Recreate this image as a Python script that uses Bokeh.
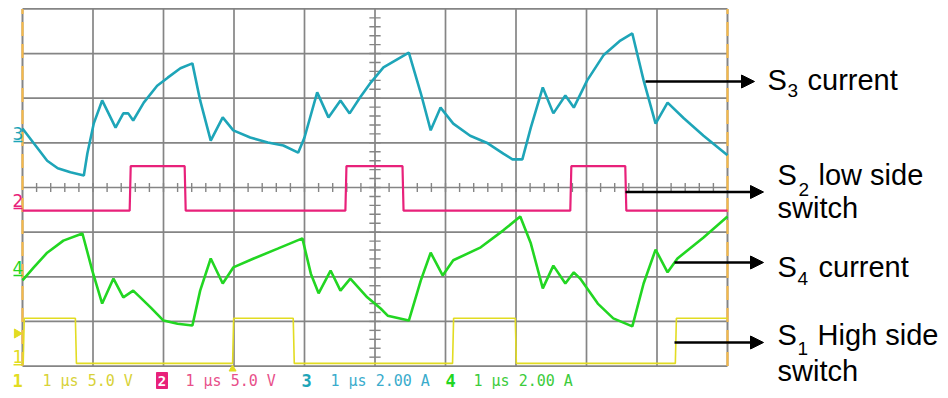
from math import pi
from bokeh.plotting import figure
from bokeh.models import Range1d, Arrow, NormalHead
from bokeh.core.properties import value
from bokeh.embed import file_html
from bokeh.resources import INLINE

# ---- data (time in µs, 1 µs/div; vertical position in screen divisions) ----
s3_t = [0, 0.16, 0.35, 0.50, 0.68, 0.87, 0.92, 1.01, 1.13, 1.32, 1.43, 1.50, 1.57,
        1.72, 1.91, 2.06, 2.24, 2.41, 2.52, 2.67, 2.84, 2.99, 3.23, 3.48, 3.70, 3.91,
        4.00, 4.18, 4.34, 4.51, 4.64, 4.79, 4.94, 5.12, 5.48, 5.65, 5.79, 5.93, 6.11,
        6.35, 6.60, 6.82, 6.95, 7.09, 7.21, 7.38, 7.53, 7.70, 7.82, 8.01, 8.24, 8.48,
        8.65, 8.81, 8.98, 9.15, 9.38, 9.66, 10.0]
s3_v = [1.32, 0.99, 0.60, 0.43, 0.34, 0.27, 0.76, 1.43, 1.95, 1.34, 1.66, 1.66, 1.50,
        1.90, 2.28, 2.46, 2.67, 2.78, 1.95, 1.05, 1.57, 1.28, 1.12, 1.01, 0.94, 0.78,
        1.12, 2.13, 1.57, 1.95, 1.66, 2.02, 2.35, 2.69, 3.02, 2.11, 1.28, 1.79, 1.43,
        1.16, 0.99, 0.76, 0.63, 0.63, 1.34, 2.24, 1.66, 2.06, 1.79, 2.40, 2.96, 3.29,
        3.45, 2.40, 1.43, 1.90, 1.55, 1.16, 0.72]

s4_t = [0, 0.16, 0.35, 0.58, 0.85, 0.99, 1.13, 1.29, 1.43, 1.57, 1.67, 1.82, 2.00,
        2.20, 2.41, 2.52, 2.67, 2.84, 2.99, 3.28, 3.62, 3.97, 4.09, 4.20, 4.37, 4.51,
        4.65, 4.89, 5.08, 5.18, 5.48, 5.65, 5.79, 5.96, 6.11, 6.50, 6.82, 7.06, 7.21,
        7.38, 7.53, 7.70, 7.82, 7.91, 8.16, 8.38, 8.65, 8.81, 8.98, 9.15, 9.29, 9.66, 10.0]
s4_v = [-2.08, -1.79, -1.46, -1.19, -1.03, -1.86, -2.60, -2.04, -2.46, -2.31, -2.46,
        -2.69, -2.98, -3.05, -3.09, -2.31, -1.59, -2.15, -1.79, -1.59, -1.37, -1.14,
        -1.93, -2.37, -1.86, -2.31, -2.04, -2.46, -2.71, -2.87, -2.98, -2.08, -1.46,
        -1.97, -1.63, -1.34, -0.96, -0.65, -1.25, -2.26, -1.75, -2.15, -1.90, -2.04,
        -2.60, -2.93, -3.11, -2.15, -1.39, -1.90, -1.59, -1.12, -0.65]

s2_edges = [1.52, 2.30, 4.58, 5.39, 7.77, 8.55]
s2_low, s2_high = -0.52, 0.48
s1_edges = [0.01, 0.75, 2.98, 3.84, 6.10, 6.99, 9.26]
s1_low, s1_high = -3.94, -2.93

ground_levels = {"3": 1.03, "2": -0.47, "4": -1.97, "1": -3.97}
trigger_level = -3.27
trigger_time = 2.98

channel_labels = ["1", "2", "3", "4"]
channel_scales = ["1 μs 5.0 V", "1 μs 5.0 V", "1 μs 2.00 A", "1 μs 2.00 A"]

# ---- colours ----
C1, C2, C3, C4 = "#e2dc22", "#e8217a", "#1ea5b8", "#22d622"
T1, T2, T3, T4 = "#d8d238", "#e8508a", "#3aaccc", "#3ccc3c"
GRID = "#858585"
EDGE = "#f5b94a"

PXX, PXY = 70.5, 44.65  # pixels per division
W, H = 948, 398
X0 = (0 - 22) / PXX
Y1 = (187 - 0) / PXY
p = figure(width=W, height=H, x_range=Range1d(X0, X0 + W / PXX),
           y_range=Range1d(Y1 - H / PXY, Y1), output_backend="svg",
           toolbar_location=None, min_border=0, x_axis_location=None,
           y_axis_location=None)
p.outline_line_color = None
p.background_fill_color = "white"
for g in p.xgrid + p.ygrid:
    g.grid_line_color = None


def px(x):
    return (x - 22) / PXX


def py(y):
    return (187 - y) / PXY


# grid
p.segment(x0=list(range(1, 10)), y0=[-4] * 9, x1=list(range(1, 10)), y1=[4] * 9,
          line_color=GRID, line_width=1.7)
p.segment(x0=[0] * 9, y0=list(range(-4, 5)), x1=[10] * 9, y1=list(range(-4, 5)),
          line_color=GRID, line_width=1.7)
# minor ticks on centre axes
tk = [k * 0.2 for k in range(1, 50)]
p.segment(x0=tk, y0=[-0.1] * len(tk), x1=tk, y1=[0.1] * len(tk), line_color=GRID, line_width=1.4)
tv = [k * 0.2 - 4 for k in range(1, 40)]
p.segment(x0=[4.92] * len(tv), y0=tv, x1=[5.08] * len(tv), y1=tv, line_color=GRID, line_width=1.4)
# side edges: orange with grey dashes
p.segment(x0=[0, 10], y0=[-4, -4], x1=[0, 10], y1=[4, 4], line_color=GRID, line_width=2)
p.segment(x0=[0, 10], y0=[-4, -4], x1=[0, 10], y1=[4, 4], line_color=EDGE, line_width=2.2,
          line_dash="14 8")


def steps(edges, lo, hi):
    xs, ys, lev = [0], [lo], lo
    for e in edges:
        nxt = hi if lev == lo else lo
        xs += [e, e + 0.015]
        ys += [lev, nxt]
        lev = nxt
    xs.append(10)
    ys.append(lev)
    return xs, ys


x1s, y1s = steps(s1_edges, s1_low, s1_high)
x2s, y2s = steps(s2_edges, s2_low, s2_high)
p.line(x1s, y1s, line_color=C1, line_width=1.6)
p.line(x2s, y2s, line_color=C2, line_width=2.2)
p.line(s3_t, s3_v, line_color=C3, line_width=2.6)
p.line(s4_t, s4_v, line_color=C4, line_width=2.6)

# ground markers on the left
gcol = {"1": C1, "2": C2, "3": C3, "4": C4}
for ch, lv in ground_levels.items():
    p.segment(x0=[px(13)], y0=[lv], x1=[px(22)], y1=[lv], line_color=gcol[ch], line_width=1.6)
    p.text(x=[px(17.5)], y=[lv + 0.04], text=[ch], text_color=gcol[ch],
           text_font=value("DejaVu Sans"), text_font_size="17px",
           text_align="center", text_baseline="bottom")
p.scatter(x=[px(16.5)], y=[trigger_level], marker="triangle", angle=-pi / 2, size=9,
          fill_color=C1, line_color=C1)
p.scatter(x=[trigger_time], y=[py(368.5)], marker="triangle", size=7,
          fill_color=C1, line_color=C1)

# bottom status line
by = py(380)
mono = value("DejaVu Sans Mono")
stat = dict(text_font=mono, text_font_size="15px", text_baseline="middle")
lab = dict(text_font=mono, text_font_size="17px", text_font_style="bold",
           text_baseline="middle")
p.text(x=[px(12)], y=[by], text=[channel_labels[0]], text_color=C1, **lab)
p.text(x=[px(42)], y=[by], text=[channel_scales[0]], text_color=T1, **stat)
p.rect(x=[px(161.5)], y=[by], width=11 / PXX, height=16 / PXY, fill_color=C2,
       line_color=C2)
p.text(x=[px(161.5)], y=[by], text=[channel_labels[1]], text_color="white", text_font=mono,
       text_font_size="14px", text_font_style="bold", text_align="center",
       text_baseline="middle")
p.text(x=[px(185)], y=[by], text=[channel_scales[1]], text_color=T2, **stat)
p.text(x=[px(301)], y=[by], text=[channel_labels[2]], text_color=C3, **lab)
p.text(x=[px(330)], y=[by], text=[channel_scales[2]], text_color=T3, **stat)
p.text(x=[px(445)], y=[by], text=[channel_labels[3]], text_color=C4, **lab)
p.text(x=[px(473)], y=[by], text=[channel_scales[3]], text_color=T4, **stat)

# right-hand annotations
sans = value("Liberation Sans")
big = dict(text_font=sans, text_font_size="29px", text_color="black",
           text_baseline="middle")
small = dict(text_font=sans, text_font_size="19px", text_color="black",
             text_baseline="middle")
p.text(x=[px(767), px(777), px(777), px(777)], y=[py(79), py(174.5), py(266), py(334)],
       text=["S", "S", "S", "S"], **big)
p.text(x=[px(787), px(798), px(797), px(797)], y=[py(90), py(188.5), py(278), py(348)],
       text=["3", "2", "4", "1"], **small)
p.text(x=[px(807), px(818), px(777), px(818), px(817), px(777)],
       y=[py(79), py(174.5), py(207.5), py(266), py(334), py(370)],
       text=["current", "low side", "switch", "current", "High side", "switch"], **big)

arrows = [(645, 754, 81), (625, 763, 191.5), (674, 763, 262), (674, 763, 342)]
for xs_, xe_, yy in arrows:
    p.add_layout(Arrow(end=NormalHead(size=13, fill_color="black", line_color="black"),
                       x_start=px(xs_), y_start=py(yy), x_end=px(xe_), y_end=py(yy),
                       line_width=2.6, line_color="black"))

open("out.html", "w").write(file_html(p, INLINE))
